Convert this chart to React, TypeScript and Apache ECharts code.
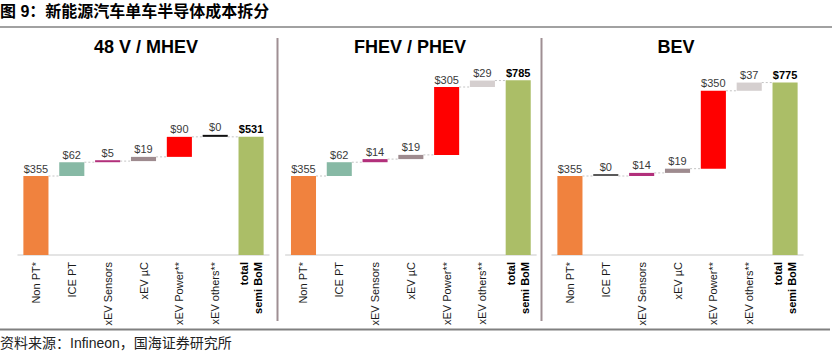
import React, { useEffect, useRef } from "react";
import * as echarts from "echarts";

const categories = ["Non PT*", "ICE PT", "xEV Sensors", "xEV µC", "xEV Power**", "xEV others**", "total\nsemi BoM"];
const panelTitles = ["48 V / MHEV", "FHEV / PHEV", "BEV"];
const mhevValues = [355, 62, 5, 19, 90, 0, 531];
const fhevValues = [355, 62, 14, 19, 305, 29, 785];
const bevValues = [355, 0, 14, 19, 350, 37, 775];
const mhevColors = ["#F0823E", "#87B9A5", "#B2307B", "#9E8B8F", "#FF0000", "#111111", "#ABBE67"];
const fhevColors = ["#F0823E", "#87B9A5", "#B2307B", "#9E8B8F", "#FF0000", "#D5CFCF", "#ABBE67"];
const bevColors = ["#F0823E", "#5A5A5A", "#B2307B", "#9E8B8F", "#FF0000", "#D5CFCF", "#ABBE67"];
const titleText = "图 9：新能源汽车单车半导体成本拆分";
const sourceText = "资料来源：Infineon，国海证券研究所";

const LATIN = "'Liberation Sans', Arial, sans-serif";
const CJK = "'Liberation Sans', 'Noto Sans CJK SC', sans-serif";

function buildData(values: number[], colors: string[]) {
  let cum = 0;
  const last = values.length - 1;
  return values.map((v, i) => {
    const base = i === last ? 0 : cum;
    if (i !== last) cum += v;
    return { value: [i, base, v], itemStyle: { color: colors[i] } };
  });
}

const grids = [
  { left: 18, width: 251 },
  { left: 285.6, width: 250.5 },
  { left: 552, width: 251 },
];
const titleCenters = [146, 410, 676];

export default function App() {
  const ref = useRef<HTMLDivElement>(null);
  useEffect(() => {
    if (!ref.current) return;
    const chart = echarts.init(ref.current, null, { renderer: "svg" });
    const panels = [
      buildData(mhevValues, mhevColors),
      buildData(fhevValues, fhevColors),
      buildData(bevValues, bevColors),
    ];
    const lastIdx = categories.length - 1;
    const renderItem = (params: any, api: any) => {
      const i = api.value(0);
      const base = api.value(1);
      const v = api.value(2);
      const p0 = api.coord([i, base]);
      const p1 = api.coord([i, base + v]);
      const band = api.size([1, 0])[0];
      const bw = band * 0.7;
      let top = p1[1];
      const bottom = p0[1];
      if (bottom - top < 2) top = bottom - 2;
      const isTotal = i === lastIdx;
      const children: any[] = [
        {
          type: "rect",
          shape: { x: p0[0] - bw / 2, y: top, width: bw, height: bottom - top },
          style: { fill: api.visual("color") },
        },
        {
          type: "text",
          style: {
            text: "$" + v,
            x: p0[0],
            y: top - 2,
            align: "center",
            verticalAlign: "bottom",
            fill: isTotal ? "#000" : "#3a3a3a",
            font: (isTotal ? "bold " : "") + "11px " + LATIN,
          },
        },
      ];
      if (!isTotal) {
        const yl = p1[1];
        children.push({
          type: "line",
          shape: { x1: p0[0] + bw / 2, y1: yl, x2: p0[0] + band - bw / 2, y2: yl },
          style: { stroke: "#c4c4c4", lineWidth: 1, lineDash: [2, 2] },
        });
      }
      return { type: "group", children };
    };

    const option: any = {
      animation: false,
      grid: grids.map((g) => ({ left: g.left, width: g.width, top: 32.5, bottom: 100 })),
      xAxis: grids.map((_, k) => ({
        type: "category",
        gridIndex: k,
        data: categories.map((c, i) =>
          i === lastIdx ? { value: c, textStyle: { fontWeight: "bold", color: "#000" } } : c
        ),
        axisLine: { show: true, lineStyle: { color: "#dcdcdc", width: 1.5 } },
        axisTick: { show: false },
        axisLabel: {
          interval: 0,
          rotate: 90,
          margin: 7,
          fontSize: 11,
          lineHeight: 14,
          color: "#1a1a1a",
          fontFamily: LATIN,
        },
      })),
      yAxis: grids.map((_, k) => ({
        type: "value",
        gridIndex: k,
        min: 0,
        max: 1000,
        show: false,
        splitLine: { show: false },
      })),
      series: panels.map((data, k) => ({
        type: "custom",
        xAxisIndex: k,
        yAxisIndex: k,
        renderItem,
        encode: { x: 0, y: 2 },
        data,
        silent: true,
      })),
      graphic: [
        {
          type: "text",
          left: 0,
          top: 3,
          style: { text: titleText, font: "bold 16px " + CJK, fill: "#000" },
        },
        {
          type: "line",
          shape: { x1: 0, y1: 27, x2: 832, y2: 27 },
          style: { stroke: "#444", lineWidth: 1.2 },
        },
        ...panelTitles.map((t, k) => ({
          type: "text",
          x: titleCenters[k],
          y: 47,
          style: { text: t, align: "center", verticalAlign: "middle", font: "bold 18px " + LATIN, fill: "#000" },
        })),
        {
          type: "line",
          shape: { x1: 277.5, y1: 38, x2: 277.5, y2: 321 },
          style: { stroke: "#9f8f93", lineWidth: 2 },
        },
        {
          type: "line",
          shape: { x1: 541.5, y1: 38, x2: 541.5, y2: 321 },
          style: { stroke: "#9f8f93", lineWidth: 2 },
        },
        {
          type: "line",
          shape: { x1: 0, y1: 329.5, x2: 830, y2: 329.5 },
          style: { stroke: "#808080", lineWidth: 2 },
        },
        {
          type: "text",
          x: 0,
          y: 343,
          style: { text: sourceText, verticalAlign: "middle", font: "14px " + CJK, fill: "#222" },
        },
      ],
    };
    chart.setOption(option);
    return () => chart.dispose();
  }, []);
  return (
    <div
      ref={ref}
      style={{ position: "fixed", left: 0, top: 0, width: 832, height: 355, background: "#fff" }}
    />
  );
}
